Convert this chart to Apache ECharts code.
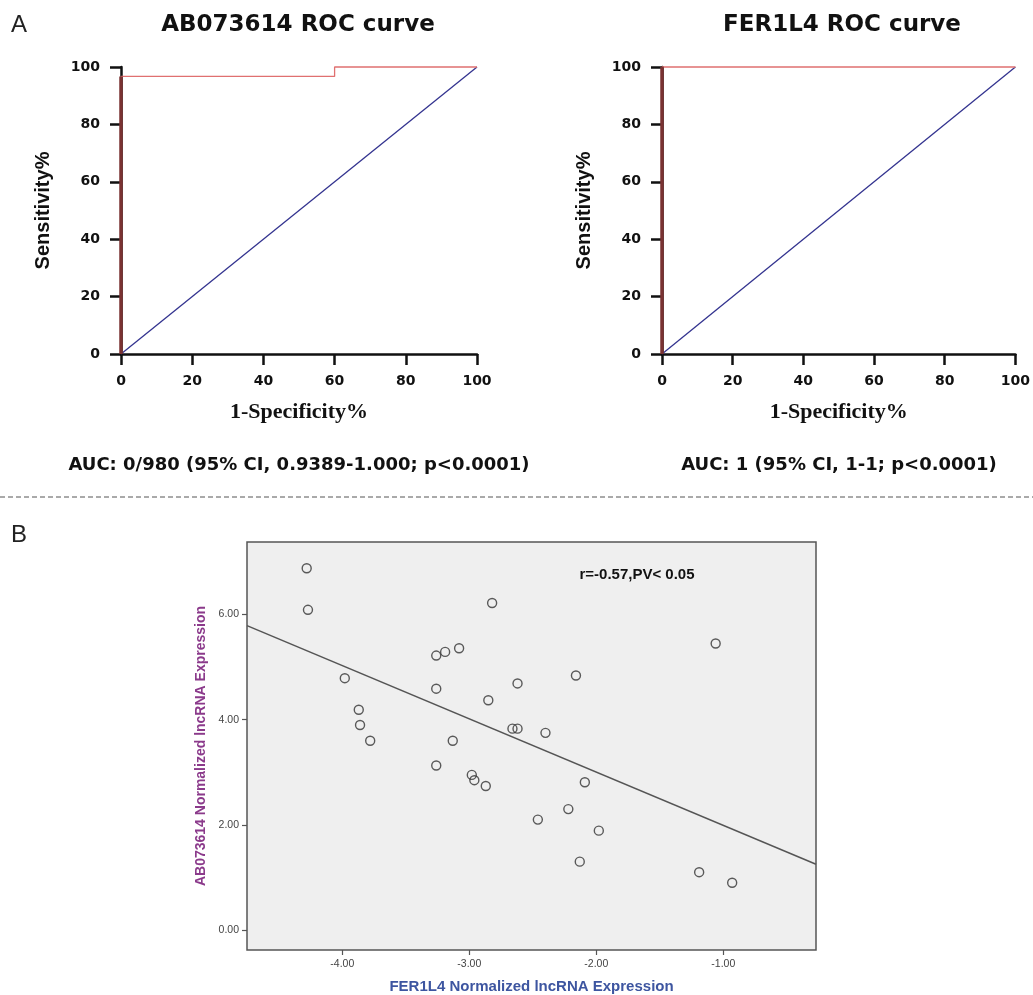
<!DOCTYPE html>
<html>
<head>
<meta charset="utf-8">
<script src="https://cdn.jsdelivr.net/npm/echarts@6/dist/echarts.min.js"></script>
<style>
  html, body { margin: 0; padding: 0; background: #fff; }
  #chart { width: 1033px; height: 995px; }
</style>
</head>
<body>
<div id="chart"></div>
<script>
// ROC curve values (percent)
const rocAX = [0, 0, 60, 60, 100];
const rocAY = [0, 96.7, 96.7, 100, 100];
const rocBX = [0, 0, 100];
const rocBY = [0, 100, 100];
const refX = [0, 100];
const refY = [0, 100];

// correlation plot: FER1L4 (x) vs AB073614 (y)
const fer1l4 = [-4.28, -4.27, -3.98, -3.87, -3.86, -3.78, -3.26, -3.19, -3.08, -3.26,
  -2.82, -2.85, -3.13, -3.26, -2.98, -2.96, -2.87, -2.66, -2.62, -2.62,
  -2.40, -2.16, -2.09, -2.22, -2.46, -1.98, -2.13, -1.06, -1.19, -0.93];
const ab073614 = [6.88, 6.09, 4.79, 4.19, 3.90, 3.60, 5.22, 5.29, 5.36, 4.59,
  6.22, 4.37, 3.60, 3.13, 2.95, 2.85, 2.74, 3.83, 3.83, 4.69,
  3.75, 4.84, 2.81, 2.30, 2.10, 1.89, 1.30, 5.45, 1.10, 0.90];
const fitX = [-4.75, -0.27];
const fitY = [5.79, 1.25];
const xTicks = [-4, -3, -2, -1];
const yTicks = [0, 2, 4, 6];

const pairs = (xs, ys) => xs.map((x, i) => [x, ys[i]]);

const chart = echarts.init(document.getElementById('chart'));

const rocFont = 'DejaVu Sans';
function rocXAxis(idx) {
  return {
    gridIndex: idx, type: 'value', min: 0, max: 100, interval: 20,
    name: '1-Specificity%', nameLocation: 'middle', nameGap: 47,
    nameTextStyle: { fontFamily: 'Liberation Serif', fontWeight: 'bold', fontSize: 22, color: '#111' },
    axisLine: { onZero: false, lineStyle: { color: '#111', width: 2.5 } },
    axisTick: { inside: false, length: 11, lineStyle: { color: '#111', width: 2.5 } },
    axisLabel: { fontFamily: rocFont, fontWeight: 'bold', fontSize: 14, color: '#111', margin: 20 },
    splitLine: { show: false }
  };
}
function rocYAxis(idx) {
  return {
    gridIndex: idx, type: 'value', min: 0, max: 100, interval: 20,
    name: 'Sensitivity%', nameLocation: 'middle', nameGap: 68,
    nameTextStyle: { fontFamily: 'Liberation Sans', fontWeight: 'bold', fontSize: 20, color: '#111' },
    axisLine: { onZero: false, lineStyle: { color: '#111', width: 2.5 } },
    axisTick: { inside: false, length: 11, lineStyle: { color: '#111', width: 2.5 } },
    axisLabel: { fontFamily: rocFont, fontWeight: 'bold', fontSize: 14, color: '#111', margin: 21 },
    splitLine: { show: false }
  };
}

function rocSeries(idx, xs, ys) {
  return [
    {
      type: 'line', xAxisIndex: idx, yAxisIndex: idx, data: pairs(refX, refY),
      symbol: 'none', clip: false, lineStyle: { color: '#33338f', width: 1.3 }
    },
    {
      type: 'line', xAxisIndex: idx, yAxisIndex: idx, data: pairs(xs, ys),
      symbol: 'none', clip: false, lineStyle: { color: '#e07070', width: 1.3 }
    },
    {
      // the heavy vertical at 1-specificity = 0
      type: 'line', xAxisIndex: idx, yAxisIndex: idx, data: pairs(xs.slice(0, 2), ys.slice(0, 2)),
      symbol: 'none', clip: false, lineStyle: { color: '#7a3232', width: 3.5 }
    }
  ];
}

const titleStyle = { fontFamily: rocFont, fontWeight: 'bold', fontSize: 23, color: '#111' };
const aucStyle = { fontFamily: rocFont, fontWeight: 'bold', fontSize: 18, color: '#111' };

const option = {
  animation: false,
  backgroundColor: '#fff',
  title: [
    { text: 'AB073614 ROC curve', left: 298, top: 14, textAlign: 'center', padding: 0, textStyle: titleStyle },
    { text: 'FER1L4 ROC curve', left: 842, top: 14, textAlign: 'center', padding: 0, textStyle: titleStyle },
    { text: 'AUC: 0/980 (95% CI, 0.9389-1.000; p<0.0001)', left: 299, top: 456, textAlign: 'center', padding: 0, textStyle: aucStyle },
    { text: 'AUC: 1 (95% CI, 1-1; p<0.0001)', left: 839, top: 456, textAlign: 'center', padding: 0, textStyle: aucStyle },
    { text: 'r=-0.57,PV< 0.05', left: 637, top: 567, textAlign: 'center', padding: 0,
      textStyle: { fontFamily: 'Liberation Sans', fontWeight: 'bold', fontSize: 15, color: '#111' } }
  ],
  graphic: [
    { type: 'text', left: 11, top: 13, style: { text: 'A', fontFamily: 'Liberation Sans Narrow, Liberation Sans', fontSize: 24, fill: '#222' } },
    { type: 'text', left: 11, top: 523, style: { text: 'B', fontFamily: 'Liberation Sans Narrow, Liberation Sans', fontSize: 24, fill: '#222' } },
    { type: 'line', shape: { x1: 0, y1: 497, x2: 1033, y2: 497 }, style: { stroke: '#555', lineWidth: 1, lineDash: [5, 3] } }
  ],
  grid: [
    { left: 121, top: 67, width: 356, height: 287 },
    { left: 662, top: 67, width: 355, height: 287 },
    { left: 247, top: 542, width: 569, height: 408, show: true, backgroundColor: '#efefef', borderColor: '#555', borderWidth: 1.5 }
  ],
  xAxis: [
    rocXAxis(0),
    rocXAxis(1),
    {
      gridIndex: 2, type: 'value', min: -4.75, max: -0.27,
      name: 'FER1L4 Normalized lncRNA Expression', nameLocation: 'middle', nameGap: 29,
      nameTextStyle: { fontFamily: 'Liberation Sans', fontWeight: 'bold', fontSize: 15, color: '#3d55a0' },
      axisLine: { show: false, onZero: false },
      axisTick: { customValues: xTicks, length: 5, lineStyle: { color: '#555', width: 1.2 } },
      axisLabel: { customValues: xTicks, formatter: v => v.toFixed(2), fontFamily: 'Liberation Sans', fontSize: 10.5, color: '#444', margin: 9 },
      splitLine: { show: false }
    }
  ],
  yAxis: [
    rocYAxis(0),
    rocYAxis(1),
    {
      gridIndex: 2, type: 'value', min: -0.38, max: 7.38,
      name: 'AB073614 Normalized lncRNA Expression', nameLocation: 'middle', nameGap: 25,
      nameTextStyle: { fontFamily: 'Liberation Sans', fontWeight: 'bold', fontSize: 14, color: '#8b3a8b' },
      axisLine: { show: false, onZero: false },
      axisTick: { customValues: yTicks, length: 5, lineStyle: { color: '#555', width: 1.2 } },
      axisLabel: { customValues: yTicks, formatter: v => v.toFixed(2), fontFamily: 'Liberation Sans', fontSize: 10.5, color: '#444', margin: 8 },
      splitLine: { show: false }
    }
  ],
  series: [
    ...rocSeries(0, rocAX, rocAY),
    ...rocSeries(1, rocBX, rocBY),
    {
      type: 'line', xAxisIndex: 2, yAxisIndex: 2, data: pairs(fitX, fitY),
      symbol: 'none', lineStyle: { color: '#555', width: 1.5 }
    },
    {
      type: 'scatter', xAxisIndex: 2, yAxisIndex: 2, data: pairs(fer1l4, ab073614),
      symbol: 'circle', symbolSize: 9,
      itemStyle: { color: 'rgba(0,0,0,0)', borderColor: '#333', borderWidth: 1.4 }
    }
  ]
};

chart.setOption(option);
</script>
</body>
</html>
